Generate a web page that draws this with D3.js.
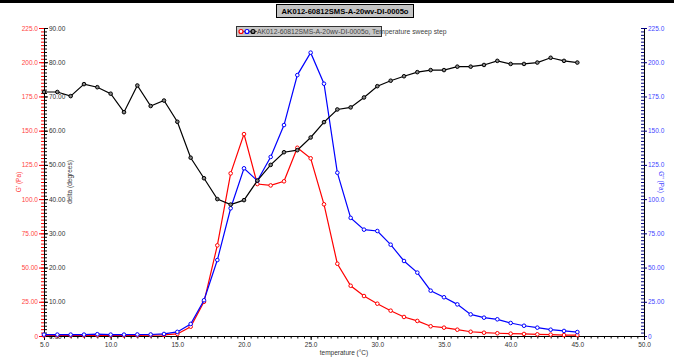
<!DOCTYPE html>
<html>
<head>
<meta charset="utf-8">
<script src="https://cdn.jsdelivr.net/npm/d3@7"></script>
<style>
  body { margin: 0; background: #fff; }
  svg { display: block; font-family: "Liberation Sans", Arial, sans-serif; }
</style>
</head>
<body>
<script>
// temperature sweep data
const temps = d3.range(5, 46, 1)
const storageModulus = [0.4, 0.4, 0.4, 0.4, 0.5, 0.4, 0.4, 0.5, 0.6, 0.8,
  1.5, 6.8, 25, 66.2, 118.8, 147.5, 111, 110, 113, 137.5, 129.8, 96.2, 52.8,
  36.7, 29.2, 23.6, 18.5, 13.9, 11.0, 7.1, 6.1, 4.6, 3.1, 2.4, 2.0, 1.7, 1.5,
  1.2, 1.0, 0.7, 0.7]
const lossModulus = [1.0, 1.0, 1.0, 1.0, 1.3, 1.0, 1.0, 1.1, 1.1, 1.5,
  3.0, 8.8, 26.1, 55.5, 93.3, 122.5, 113.4, 130.8, 154.1, 190.6, 207, 184.3,
  119.3, 86.3, 77.7, 76.7, 66.7, 54.8, 46.3, 33.1, 28.3, 23.1, 15.8, 13.4,
  12.2, 9.5, 7.5, 6.1, 4.6, 3.7, 2.9]
const delta = [71.3, 71.3, 70.1, 73.6, 72.7, 70.8, 65.4, 73.2, 67.2, 68.8,
  62.6, 52.1, 46.1, 40.0, 38.4, 39.7, 45.4, 50.0, 53.7, 54.3, 58.0, 62.5,
  66.2, 66.8, 69.7, 73.0, 74.6, 75.9, 77.1, 77.7, 77.7, 78.7, 78.7, 79.2,
  80.4, 79.5, 79.5, 79.9, 81.3, 80.4, 79.9]
const modulusTicks = [0, 25, 50, 75, 100, 125, 150, 175, 200, 225]
const deltaTicks = [0, 10, 20, 30, 40, 50, 60, 70, 80, 90]
const tempTicks = [5, 10, 15, 20, 25, 30, 35, 40, 45, 50]

const sampleName = 'AK012-60812SMS-A-20wv-DI-0005o'

const W = 674, H = 360
const plot = { left: 44, right: 644, top: 28, bottom: 336 }

const svg = d3.select('body').append('svg')
  .attr('width', W)
  .attr('height', H)

const x = d3.scaleLinear().domain([5, 50]).range([plot.left, plot.right])
const yMod = d3.scaleLinear().domain([0, 225]).range([plot.bottom, plot.top])
const yDelta = d3.scaleLinear().domain([0, 90]).range([plot.bottom, plot.top])

const fmtMod = d => d === 0 ? '0' : (d >= 100 ? d.toFixed(1) : d.toFixed(2))

// top band
svg.append('rect')
  .attr('x', 0).attr('y', 0)
  .attr('width', W).attr('height', 3)
  .attr('fill', '#000')

// title
svg.append('rect')
  .attr('x', 276.5).attr('y', 4.5)
  .attr('width', 137).attr('height', 13)
  .attr('fill', '#c4c4c4')
  .attr('stroke', '#000')
svg.append('text')
  .attr('x', 345).attr('y', 14)
  .attr('text-anchor', 'middle')
  .attr('font-size', '7.6px')
  .attr('font-weight', '700')
  .attr('fill', '#000')
  .text(sampleName)

// legend
svg.append('rect')
  .attr('x', 236.5).attr('y', 26.5)
  .attr('width', 145).attr('height', 10)
  .attr('fill', '#c8c8c8')
  .attr('stroke', '#333')
const legendItems = [['#ff0000', 241], ['#0000ff', 247], ['#000000', 253]]
svg.append('line')
  .attr('x1', 239).attr('x2', 257)
  .attr('y1', 31.5).attr('y2', 31.5)
  .attr('stroke', '#555')
legendItems.forEach(([c, lx]) => {
  svg.append('circle')
    .attr('cx', lx).attr('cy', 31.5).attr('r', 2)
    .attr('fill', c === '#000000' ? '#888' : '#fff')
    .attr('stroke', c).attr('stroke-width', 1.2)
})
svg.append('text')
  .attr('x', 257).attr('y', 34)
  .attr('font-size', '6.8px')
  .attr('fill', '#444')
  .text(sampleName + ', Temperature sweep step')

// axes
function styleAxis(g, color, labelColor) {
  g.select('.domain').attr('stroke', '#000')
  g.selectAll('.tick line').attr('stroke', color)
  g.selectAll('.tick text')
    .attr('fill', labelColor)
    .attr('font-size', '6.5px')
    .attr('font-family', '"Liberation Sans", Arial, sans-serif')
}

// G' left (red)
svg.append('g')
  .attr('transform', `translate(${plot.left},0)`)
  .call(d3.axisLeft(yMod).tickValues(d3.range(0, 225.1, 2.5)).tickSize(3).tickFormat(''))
  .call(g => styleAxis(g, '#ff0000', '#ff4444'))
svg.append('g')
  .attr('transform', `translate(${plot.left},0)`)
  .call(d3.axisLeft(yMod).tickValues(modulusTicks).tickSize(5).tickPadding(1).tickFormat(fmtMod))
  .call(g => styleAxis(g, '#ff0000', '#ff4444'))

// delta (black), ticks on the inside
svg.append('g')
  .attr('transform', `translate(${plot.left},0)`)
  .call(d3.axisRight(yDelta).tickValues(d3.range(0, 90.1, 1)).tickSize(3).tickFormat(''))
  .call(g => styleAxis(g, '#000', '#333'))
svg.append('g')
  .attr('transform', `translate(${plot.left},0)`)
  .call(d3.axisRight(yDelta).tickValues(deltaTicks).tickSize(4).tickPadding(1).tickFormat(d => d.toFixed(2)))
  .call(g => styleAxis(g, '#000', '#333'))

// G'' right (blue)
svg.append('g')
  .attr('transform', `translate(${plot.right},0)`)
  .call(d3.axisLeft(yMod).tickValues(d3.range(0, 225.1, 2.5)).tickSize(3).tickFormat(''))
  .call(g => styleAxis(g, '#000080', '#4444ff'))
svg.append('g')
  .attr('transform', `translate(${plot.right},0)`)
  .call(d3.axisRight(yMod).tickValues(modulusTicks).tickSize(3).tickPadding(1).tickFormat(fmtMod))
  .call(g => styleAxis(g, '#000080', '#4444ff'))

// temperature bottom
svg.append('g')
  .attr('transform', `translate(0,${plot.bottom})`)
  .call(d3.axisBottom(x).tickValues(d3.range(5, 50.01, 0.5)).tickSize(2.5).tickFormat(''))
  .call(g => styleAxis(g, '#000', '#333'))
svg.append('g')
  .attr('transform', `translate(0,${plot.bottom})`)
  .call(d3.axisBottom(x).tickValues(tempTicks).tickSize(4).tickPadding(2).tickFormat(d => d.toFixed(1)))
  .call(g => styleAxis(g, '#000', '#333'))

// axis titles
svg.append('text')
  .attr('transform', `translate(21,${(plot.top + plot.bottom) / 2}) rotate(-90)`)
  .attr('text-anchor', 'middle')
  .attr('font-size', '6.5px')
  .attr('fill', '#ff3333')
  .text("G' (Pa)")
svg.append('text')
  .attr('transform', `translate(72,${(plot.top + plot.bottom) / 2}) rotate(-90)`)
  .attr('text-anchor', 'middle')
  .attr('font-size', '6.5px')
  .attr('fill', '#333')
  .text('delta (degrees)')
svg.append('text')
  .attr('transform', `translate(659,${(plot.top + plot.bottom) / 2}) rotate(90)`)
  .attr('text-anchor', 'middle')
  .attr('font-size', '6.5px')
  .attr('fill', '#4444ff')
  .text("G'' (Pa)")
svg.append('text')
  .attr('x', (plot.left + plot.right) / 2)
  .attr('y', 355)
  .attr('text-anchor', 'middle')
  .attr('font-size', '6.5px')
  .attr('fill', '#333')
  .text('temperature (°C)')

// series
const series = [
  { values: storageModulus, y: yMod, color: '#ff0000', fill: '#fff' },
  { values: lossModulus, y: yMod, color: '#0000ff', fill: '#fff' },
  { values: delta, y: yDelta, color: '#000000', fill: '#888' }
]

series.forEach(s => {
  const pts = temps.map((t, i) => [t, s.values[i]])
  const line = d3.line().x(d => x(d[0])).y(d => s.y(d[1]))
  svg.append('path')
    .datum(pts)
    .attr('d', line)
    .attr('fill', 'none')
    .attr('stroke', s.color)
    .attr('stroke-width', 1.2)
  svg.append('g')
    .selectAll('circle')
    .data(pts)
    .enter()
    .append('circle')
    .attr('cx', d => x(d[0]))
    .attr('cy', d => s.y(d[1]))
    .attr('r', 1.8)
    .attr('fill', s.fill)
    .attr('stroke', s.color)
    .attr('stroke-width', 1)
})
</script>
</body>
</html>
